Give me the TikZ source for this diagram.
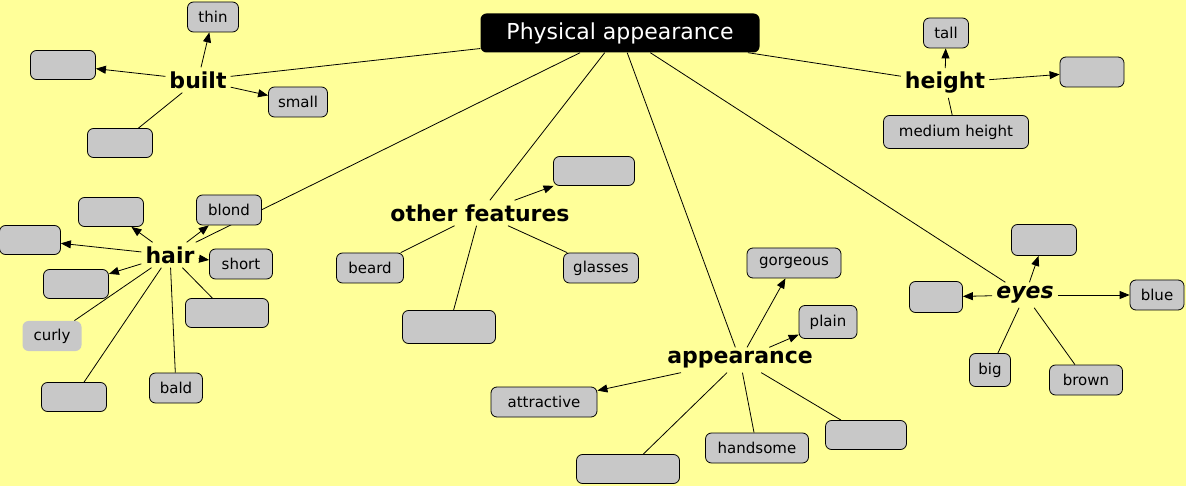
\documentclass[tikz,border=0pt]{standalone}
\usepackage{fontspec}
\setmainfont{DejaVu Sans}
\usetikzlibrary{arrows.meta}
\definecolor{bgyellow}{RGB}{255,255,153}
\definecolor{boxgray}{RGB}{200,200,200}
\pgfdeclarelayer{back}
\pgfdeclarelayer{edges}
\pgfsetlayers{back,edges,main}
\tikzset{
  box/.style={draw=black, fill=boxgray, rounded corners=6pt, line width=0.8pt,
    minimum height=30pt, inner sep=2pt, font=\fontsize{15}{17}\selectfont},
  plainbox/.style={box, draw=none},
  hub/.style={inner sep=4pt, font=\fontsize{22}{24}\selectfont\bfseries},
  rootbox/.style={fill=black, text=white, rounded corners=6pt, minimum width=279pt,
    minimum height=39pt, inner sep=2pt, font=\fontsize{22}{24}\selectfont},
  link/.style={line width=0.8pt, draw=black},
  arr/.style={link, -{Triangle[length=10pt,width=8pt]}}
}
\begin{document}
\begin{tikzpicture}[x=1pt,y=-1pt]
\begin{pgfonlayer}{back}
\fill[bgyellow] (0,0) rectangle (1186,486);
\end{pgfonlayer}
\useasboundingbox (0,0) rectangle (1186,486);

% root
\node[rootbox] (root) at (620,33) {Physical appearance};

% built
\node[hub] (built) at (198,80) {built};
\node[box, minimum width=51pt] (thin) at (213,17) {thin};
\node[box, minimum width=65pt, minimum height=29pt] (builtA) at (63,65) {};
\node[box, minimum width=59pt] (small) at (298,102) {small};
\node[box, minimum width=65pt, minimum height=29pt] (builtB) at (120,143) {};

% height
\node[hub] (height) at (945,83) {height};
\node[box, minimum width=45pt] (tall) at (946,33) {tall};
\node[box, minimum width=64pt] (heightA) at (1092,72) {};
\node[box, minimum width=145pt, minimum height=33pt] (medium) at (956,132) {medium height};

% hair
\node[hub] (hair) at (170,255) {hair};
\node[box, minimum width=65pt, minimum height=29pt] (hairA) at (111,212) {};
\node[box, minimum width=65pt] (blond) at (229,210) {blond};
\node[box, minimum width=61pt, minimum height=29pt] (hairB) at (30,240) {};
\node[box, minimum width=63pt] (short) at (241,264) {short};
\node[box, minimum width=65pt, minimum height=29pt] (hairC) at (76,284) {};
\node[box, minimum width=83pt, minimum height=29pt] (hairD) at (227,313) {};
\node[plainbox, minimum width=59pt] (curly) at (52,336) {curly};
\node[box, minimum width=65pt, minimum height=29pt] (hairE) at (74,397) {};
\node[box, minimum width=53pt] (bald) at (176,388) {bald};

% other features
\node[hub] (other) at (480,213) {other features};
\node[box, minimum width=81pt, minimum height=29pt] (otherA) at (594,171) {};
\node[box, minimum width=67pt] (beard) at (370,268) {beard};
\node[box, minimum width=75pt] (glasses) at (601,268) {glasses};
\node[box, minimum width=93pt, minimum height=33pt] (otherB) at (449,327) {};

% appearance
\node[hub] (appear) at (740,360) {appearance};
\node[box, minimum width=94pt] (gorgeous) at (794,263) {gorgeous};
\node[box, minimum width=58pt, minimum height=33pt] (plain) at (828,322) {plain};
\node[box, minimum width=106pt] (attractive) at (544,402) {attractive};
\node[box, minimum width=103pt, minimum height=29pt] (appearA) at (628,469) {};
\node[box, minimum width=103pt] (handsome) at (757,448) {handsome};
\node[box, minimum width=81pt, minimum height=29pt] (appearB) at (866,435) {};

% eyes
\node[hub, font=\fontsize{22}{24}\selectfont\bfseries\itshape] (eyes) at (1025,295) {eyes};
\node[box, minimum width=65pt, minimum height=31pt] (eyesA) at (1044,240) {};
\node[box, minimum width=53pt, minimum height=31pt] (eyesB) at (936,297) {};
\node[box, minimum width=54pt] (blue) at (1157,295) {blue};
\node[box, minimum width=41pt, minimum height=33pt] (big) at (990,370) {big};
\node[box, minimum width=73pt] (brown) at (1086,380) {brown};

\begin{pgfonlayer}{edges}
% root links
\draw[link] (root) -- (built);
\draw[link] (root) -- (height);
\draw[link] (root) -- (hair);
\draw[link] (root) -- (other);
\draw[link] (root) -- (appear);
\draw[link] (root) -- (eyes);
% built
\draw[arr] (built) -- (thin);
\draw[arr] (built) -- (builtA);
\draw[arr] (built) -- (small);
\draw[link] (built) -- (builtB);
% height
\draw[arr] (height) -- (tall);
\draw[arr] (height) -- (heightA);
\draw[link] (height) -- (medium);
% hair
\draw[arr] (hair) -- (hairA);
\draw[arr] (hair) -- (blond);
\draw[arr] (hair) -- (hairB);
\draw[arr] (hair) -- (short);
\draw[arr] (hair) -- (hairC);
\draw[link] (hair) -- (hairD);
\draw[link] (hair) -- (curly);
\draw[link] (hair) -- (hairE);
\draw[link] (hair) -- (bald);
% other features
\draw[arr] (other) -- (otherA);
\draw[link] (other) -- (beard);
\draw[link] (other) -- (glasses);
\draw[link] (other) -- (otherB);
% appearance
\draw[arr] (appear) -- (gorgeous);
\draw[arr] (appear) -- (plain);
\draw[arr] (appear) -- (attractive);
\draw[link] (appear) -- (appearA);
\draw[link] (appear) -- (handsome);
\draw[link] (appear) -- (appearB);
% eyes
\draw[arr] (eyes) -- (eyesA);
\draw[arr] (eyes) -- (eyesB);
\draw[arr] (eyes) -- (blue);
\draw[link] (eyes) -- (big);
\draw[link] (eyes) -- (brown);
\end{pgfonlayer}
\end{tikzpicture}
\end{document}
